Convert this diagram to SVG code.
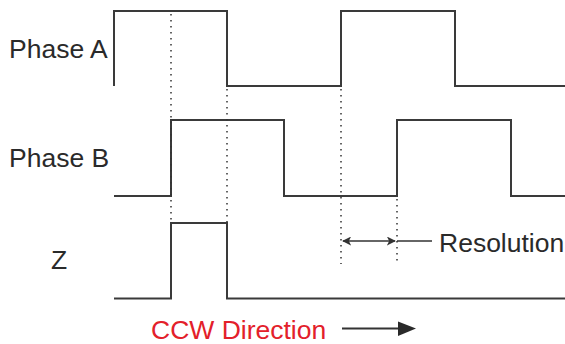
<svg xmlns="http://www.w3.org/2000/svg" width="565" height="344" viewBox="0 0 565 344">
<style>
.sig{fill:none;stroke:#3a3a3a;stroke-width:2;stroke-linejoin:miter}
.dot{fill:none;stroke:#333;stroke-width:1.5;stroke-dasharray:1.5 4.5}
.lbl{font-family:"Liberation Sans",Arial,sans-serif;font-size:26.5px;fill:#2a2a2a}
.red{font-family:"Liberation Sans",Arial,sans-serif;font-size:26.5px;fill:#e3202a}
.ln{fill:none;stroke:#333;stroke-width:2}
</style>
<defs>
<marker id="sa" viewBox="0 0 10 10" refX="9" refY="5" markerWidth="9" markerHeight="9" markerUnits="userSpaceOnUse" orient="auto-start-reverse"><path d="M0,0 L10,5 L0,10 L2.5,5 Z" fill="#333"/></marker>
</defs>
<rect width="565" height="344" fill="#fff"/>
<g id="phaseA">
<text class="lbl" x="9" y="58">Phase A</text>
<path class="sig" d="M114,86 V11 H227 V86 H341 V11 H455 V86 H565"/>
</g>
<g id="phaseB">
<text class="lbl" x="9" y="167">Phase B</text>
<path class="sig" d="M114,196 H171 V120 H284 V196 H397 V120 H511 V196 H565"/>
</g>
<g id="z">
<text class="lbl" x="51" y="269">Z</text>
<path class="sig" d="M114,298.5 H171 V223 H227 V298.5 H565"/>
</g>
<g id="connectors">
<path class="dot" d="M171,14 V222"/>
<path class="dot" d="M227,89 V222"/>
<path class="dot" d="M341,89 V264"/>
<path class="dot" d="M397,199 V264"/>
<path class="ln" d="M343,241 H395" marker-start="url(#sa)" marker-end="url(#sa)" style="stroke-width:1.6"/>
<path class="ln" d="M397,241 H432" style="stroke-width:1.6"/>
<path class="ln" d="M342,328.5 H400"/>
<path d="M398,321.5 L416,328.5 L398,336 Z" fill="#2a2a2a"/>
</g>
<g id="resolution">
<text class="lbl" x="439" y="252">Resolution</text>
</g>
<g id="direction">
<text class="red" x="151" y="339">CCW Direction</text>
</g>
</svg>
